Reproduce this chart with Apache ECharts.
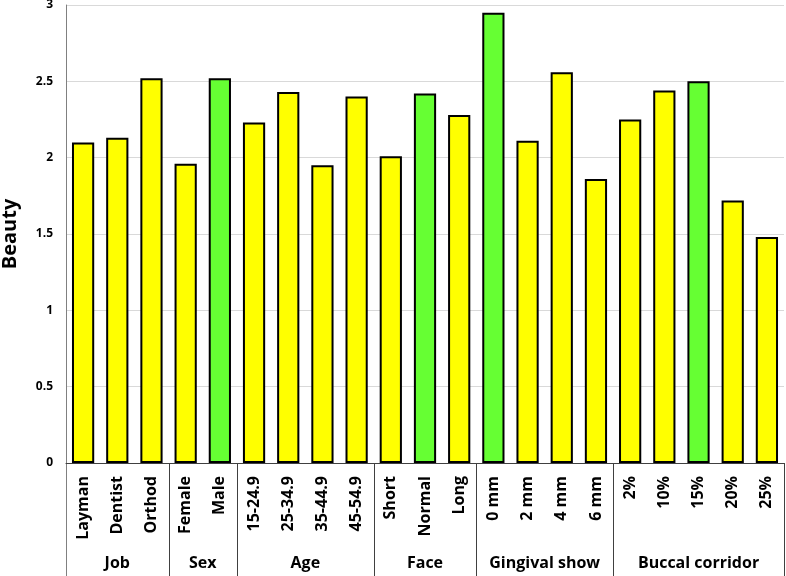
<!DOCTYPE html>
<html>
<head>
<meta charset="utf-8">
<script src="https://cdn.jsdelivr.net/npm/echarts@6/dist/echarts.min.js"></script>
<style>html,body{margin:0;padding:0;background:#fff;}#c{width:786px;height:576px;}</style>
</head>
<body>
<div id="c"></div>
<script>
const categories = ['Layman','Dentist','Orthod','Female','Male','15-24.9','25-34.9','35-44.9','45-54.9','Short','Normal','Long','0 mm','2 mm','4 mm','6 mm','2%','10%','15%','20%','25%'];
const beautyValues = [2.10,2.13,2.52,1.96,2.52,2.23,2.43,1.95,2.40,2.01,2.42,2.28,2.95,2.11,2.56,1.86,2.25,2.44,2.50,1.72,1.48];
const highlighted = ['Male','Normal','0 mm','15%'];
const groupNames = ['Job','Sex','Age','Face','Gingival show','Buccal corridor'];
const groupSizes = [3,2,4,3,4,5];
const yTicks = [0,0.5,1,1.5,2,2.5,3];

const FONT = '"Open Sans", sans-serif';
const chart = echarts.init(document.getElementById('c'), null, {renderer:'canvas'});
const GRID = {left:66, right:2, top:5, bottom:113};

chart.setOption({
  animation:false,
  backgroundColor:'#fff',
  grid:{left:GRID.left, right:GRID.right, top:GRID.top, bottom:GRID.bottom, containLabel:false, outerBoundsMode:'none'},
  xAxis:{
    type:'category',
    data:categories,
    axisLine:{show:true, lineStyle:{color:'#404040', width:1}},
    axisTick:{show:false},
    axisLabel:{rotate:90, interval:0, margin:13, color:'#000', fontFamily:FONT, fontWeight:'bold', fontSize:16}
  },
  yAxis:{
    type:'value',
    min:yTicks[0], max:yTicks[yTicks.length-1], interval:0.5,
    name:'Beauty', nameLocation:'middle', nameGap:46,
    nameTextStyle:{fontFamily:FONT, fontWeight:'bold', fontSize:20, color:'#000'},
    axisLine:{show:true, lineStyle:{color:'#808080', width:1}},
    axisTick:{show:false},
    splitLine:{show:true, lineStyle:{color:'#d9d9d9', width:1}},
    axisLabel:{margin:13, color:'#000', fontFamily:FONT, fontWeight:'bold', fontSize:12,
      formatter:v=>String(v)}
  },
  series:[{
    type:'bar',
    data:beautyValues.map((v,i)=>({value:v, itemStyle:{color: highlighted.includes(categories[i]) ? '#66ff33' : '#ffff00'}})),
    barCategoryGap:'35%',
    itemStyle:{borderColor:'#000', borderWidth:2}
  }]
});

function drawGroups(){
  const c0 = chart.convertToPixel({xAxisIndex:0}, 0);
  const c1 = chart.convertToPixel({xAxisIndex:0}, 1);
  const band = c1 - c0;
  const yBase = chart.convertToPixel({yAxisIndex:0}, 0);
  const els = [];
  let start = 0;
  const bounds = [0];
  groupSizes.forEach(s=>{ start += s; bounds.push(start); });
  bounds.forEach(b=>{
    const x = Math.round(c0 + (b - 0.5)*band) + 0.5;
    els.push({type:'line', shape:{x1:x, y1:yBase, x2:x, y2:576},
      style:{stroke: b===0 ? '#808080' : '#404040', lineWidth:1}, silent:true});
  });
  groupNames.forEach((g,k)=>{
    const mid = (bounds[k] + bounds[k+1]) / 2;
    const x = c0 + (mid - 0.5)*band;
    els.push({type:'text', x:x, y:563, style:{text:g, fill:'#000', font:'bold 16px ' + FONT, textAlign:'center', textVerticalAlign:'middle'}, silent:true});
  });
  chart.setOption({graphic:els});
}
drawGroups();
</script>
</body>
</html>
